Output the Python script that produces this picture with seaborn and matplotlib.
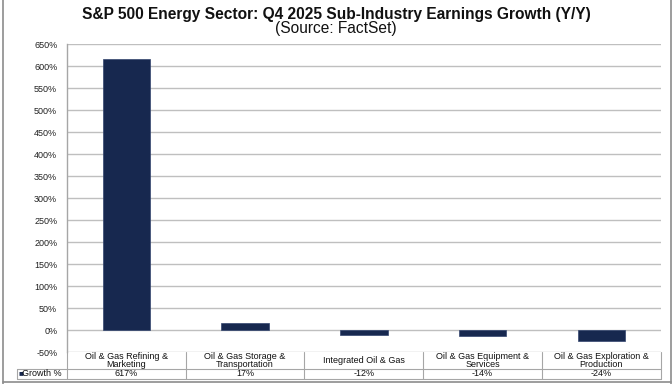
import matplotlib
matplotlib.use("Agg")
import matplotlib.pyplot as plt
import matplotlib.transforms as mtransforms
import seaborn as sns
import pandas as pd

# data
categories = ["Oil & Gas Refining &\nMarketing",
              "Oil & Gas Storage &\nTransportation",
              "Integrated Oil & Gas",
              "Oil & Gas Equipment &\nServices",
              "Oil & Gas Exploration &\nProduction"]
growth = [617, 17, -12, -14, -24]
yticks = list(range(-50, 651, 50))

navy = "#17284F"
grid_gray = "#BFBFBF"

sns.set_theme(style="white")
plt.rcParams["font.family"] = ["Liberation Sans", "DejaVu Sans"]

df = pd.DataFrame({"category": categories, "growth": growth})

fig = plt.figure(figsize=(6.72, 3.84), dpi=100)
W, H = 672, 384
ax = fig.add_axes([67 / W, (H - 352) / H, 593.7 / W, 308 / H])

sns.barplot(data=df, x="category", y="growth", color=navy, width=0.4,
            saturation=1, edgecolor="#33456e", linewidth=0.5, ax=ax, zorder=3)

ax.set_ylim(-50, 650)
ax.set_xlim(-0.5, len(categories) - 0.5)
ax.set_yticks(yticks)
ax.set_yticklabels([f"{v}%" for v in yticks], fontsize=6.5, color="#222222")
ax.tick_params(axis="y", length=0, pad=7)
ax.set_xticks([])
ax.set_xlabel("")
ax.set_ylabel("")
for v in yticks:
    ax.axhline(v, color=grid_gray, lw=1, zorder=1)
for s in ["top", "right", "bottom"]:
    ax.spines[s].set_visible(False)
ax.spines["left"].set_color("#A6A6A6")
ax.spines["left"].set_linewidth(1)

# data table under the plot
tr = mtransforms.blended_transform_factory(ax.transData, ax.transAxes)
px = 1 / 308
y_top, y_mid, y_bot = 0, -17 * px, -27 * px
line_kw = dict(color="#A6A6A6", lw=0.8, clip_on=False)
n = len(categories)
for yy in (y_mid, y_bot):
    ax.plot([-0.5, n - 0.5], [yy, yy], transform=tr, **line_kw)
for i in range(n + 1):
    ax.plot([i - 0.5, i - 0.5], [y_top, y_bot], transform=tr, **line_kw)
for i, (c, g) in enumerate(zip(categories, growth)):
    ax.text(i, (y_top + y_mid) / 2, c, transform=tr, ha="center", va="center",
            fontsize=6.5, linespacing=0.95, color="#111111")
    ax.text(i, (y_mid + y_bot) / 2, f"{g}%", transform=tr, ha="center",
            va="center", fontsize=6.5, color="#111111")

# legend key cell
x_left = (17 - 67) / 593.7
ax.plot([x_left, 0], [y_mid, y_mid], transform=ax.transAxes, **line_kw)
ax.plot([x_left, 0], [y_bot, y_bot], transform=ax.transAxes, **line_kw)
ax.plot([x_left, x_left], [y_mid, y_bot], transform=ax.transAxes, **line_kw)
ax.text((18.5 - 67) / 593.7, (y_mid + y_bot) / 2, "\u25a0", transform=ax.transAxes,
        ha="left", va="center", fontsize=6, color=navy)
ax.text((22.5 - 67) / 593.7, (y_mid + y_bot) / 2, "Growth %", transform=ax.transAxes,
        ha="left", va="center", fontsize=6.5, color="#111111")

# titles
fig.text(0.5, 1 - 14 / H, "S&P 500 Energy Sector: Q4 2025 Sub-Industry Earnings Growth (Y/Y)",
         ha="center", va="center", fontsize=11.2, fontweight="bold", color="#111111")
fig.text(0.5, 1 - 29 / H, "(Source: FactSet)", ha="center", va="center",
         fontsize=11.2, color="#111111")

# outer frame
frame_kw = dict(color="#8C8C8C", lw=1.2, transform=fig.transFigure)
fig.add_artist(plt.Line2D([2.5 / W, 2.5 / W], [0, 1], **frame_kw))
fig.add_artist(plt.Line2D([670.5 / W, 670.5 / W], [0, 1], **frame_kw))
fig.add_artist(plt.Line2D([2.5 / W, 670.5 / W], [2 / H, 2 / H], **frame_kw))

fig.savefig("out.png", dpi=100)
